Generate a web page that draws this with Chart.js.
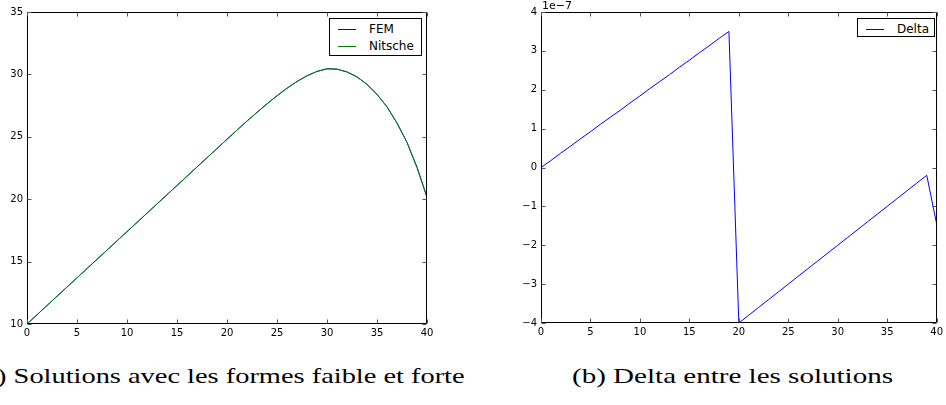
<!DOCTYPE html>
<html>
<head>
<meta charset="utf-8">
<script src="https://cdn.jsdelivr.net/npm/chart.js@4.4.1/dist/chart.umd.min.js"></script>
<style>
  html, body { margin: 0; padding: 0; background: #fff; }
  body { width: 946px; height: 405px; position: relative; overflow: hidden; }
  .wrap { position: absolute; }
  .legend { position: absolute; background: #fff; border: 1px solid #000; box-sizing: border-box;
            font-family: "DejaVu Sans", sans-serif; font-size: 12px; color: #000; }
  .legend .row { position: absolute; left: 0; height: 14px; width: 100%; }
  .legend .sample { position: absolute; left: 8px; width: 18px; height: 1px; top: 7px; }
  .legend .txt { position: absolute; left: 39px; top: 0px; line-height: 14px; white-space: nowrap; }
  .caption { position: absolute; font-family: "Liberation Serif", serif; font-size: 21px; color: #000; white-space: nowrap; line-height: 24px; transform-origin: 0 0; }
</style>
</head>
<body>
<div class="wrap" style="left:0;top:0;width:440px;height:345px;"><canvas id="c1" width="440" height="345"></canvas></div>
<div class="wrap" style="left:500px;top:0;width:446px;height:345px;"><canvas id="c2" width="446" height="345"></canvas></div>
<div id="leg1" class="legend" style="left:329px;top:18px;width:93px;height:38px;"></div>
<div id="leg2" class="legend" style="left:857px;top:18px;width:78px;height:19px;"></div>
<div id="cap1" class="caption"></div>
<div id="cap2" class="caption"></div>
<script>
// ---- Data ----
const xValues = [0,1,2,3,4,5,6,7,8,9,10,11,12,13,14,15,16,17,18,19,20,21,22,23,24,25,26,27,28,29,30,31,32,33,34,35,36,37,38,39,40];
const femValues = [10.00,10.74,11.48,12.22,12.96,13.70,14.44,15.18,15.92,16.66,17.40,18.14,18.88,19.62,20.36,21.10,21.84,22.58,23.32,24.06,24.80,25.54,26.26,26.96,27.64,28.29,28.89,29.43,29.89,30.24,30.45,30.42,30.20,29.80,29.20,28.40,27.40,26.10,24.55,22.55,20.15];
const nitscheValues = [10.00,10.74,11.48,12.22,12.96,13.70,14.44,15.18,15.92,16.66,17.40,18.14,18.88,19.62,20.36,21.10,21.84,22.58,23.32,24.06,24.80,25.54,26.26,26.96,27.64,28.29,28.89,29.43,29.89,30.24,30.45,30.42,30.20,29.80,29.20,28.40,27.40,26.10,24.55,22.55,20.15];
// Delta values in units of 1e-7
const deltaValues = [0.00,0.18,0.37,0.55,0.74,0.92,1.11,1.29,1.47,1.66,1.84,2.03,2.21,2.39,2.58,2.76,2.95,3.13,3.32,3.50,-4.00,-3.80,-3.60,-3.40,-3.20,-3.00,-2.80,-2.60,-2.40,-2.20,-2.00,-1.80,-1.60,-1.40,-1.20,-1.00,-0.80,-0.60,-0.40,-0.20,-1.45];
const xTicks = [0,5,10,15,20,25,30,35,40];
const leftYTicks = [10,15,20,25,30,35];
const rightYTicks = [-4,-3,-2,-1,0,1,2,3,4];
const seriesNamesLeft = ["FEM", "Nitsche"];
const seriesNamesRight = ["Delta"];
const offsetLabel = "1e\u22127";
const captionA = ["(a) ", "Solutions avec les formes faible et forte"];
const captionB = "(b) Delta entre les solutions";

const toPts = (ys) => xValues.map((x, i) => ({x: x, y: ys[i]}));
const fmt = (v) => String(v).replace('-', '\u2212');

const frame = {
  id: 'frame',
  afterDraw(chart, args, opts) {
    const ctx = chart.ctx, a = chart.chartArea;
    const xs = chart.scales.x, ys = chart.scales.y;
    const L = Math.round(a.left) + 0.5, R = Math.round(a.right) - 0.5;
    const T = Math.round(a.top) + 0.5, B = Math.round(a.bottom) - 0.5;
    ctx.save();
    ctx.strokeStyle = '#000';
    ctx.lineWidth = 1;
    ctx.beginPath();
    ctx.rect(L, T, R - L, B - T);
    ctx.stroke();
    ctx.strokeStyle = '#555';
    ctx.beginPath();
    const tl = 4;
    xs.ticks.forEach(t => {
      const p = Math.round(xs.getPixelForValue(t.value)) + 0.5;
      ctx.moveTo(p, B); ctx.lineTo(p, B - tl);
      ctx.moveTo(p, T); ctx.lineTo(p, T + tl);
    });
    ys.ticks.forEach(t => {
      const p = Math.round(ys.getPixelForValue(t.value)) + 0.5;
      ctx.moveTo(L, p); ctx.lineTo(L + tl, p);
      ctx.moveTo(R, p); ctx.lineTo(R - tl, p);
    });
    ctx.stroke();
    if (opts && opts.offsetText) {
      ctx.fillStyle = '#000';
      ctx.font = '11px "DejaVu Sans"';
      ctx.textBaseline = 'alphabetic';
      ctx.textAlign = 'left';
      ctx.fillText(opts.offsetText, a.left + 1, a.top - 3);
    }
    ctx.restore();
  }
};

function makeScales(yMin, yMax, yTickVals, yWidth, xHeight) {
  const tickFont = { family: 'DejaVu Sans', size: 10 };
  return {
    x: {
      type: 'linear', min: 0, max: 40,
      grid: { display: false, drawTicks: false }, border: { display: false },
      afterBuildTicks: (s) => { s.ticks = xTicks.map(v => ({value: v})); },
      ticks: { color: '#000', font: tickFont, padding: 3, maxRotation: 0, autoSkip: false, callback: (v) => fmt(v) },
      afterFit: (s) => { s.height = xHeight; }
    },
    y: {
      type: 'linear', min: yMin, max: yMax,
      grid: { display: false, drawTicks: false }, border: { display: false },
      afterBuildTicks: (s) => { s.ticks = yTickVals.map(v => ({value: v})); },
      ticks: { color: '#000', font: tickFont, padding: 4, autoSkip: false, callback: (v) => fmt(v) },
      afterFit: (s) => { s.width = yWidth; }
    }
  };
}

const common = {
  responsive: false, animation: false, devicePixelRatio: 1,
  plugins: { legend: { display: false }, tooltip: { enabled: false } },
  elements: { point: { radius: 0 }, line: { borderWidth: 1, tension: 0 } }
};

const chart1 = new Chart(document.getElementById('c1'), {
  type: 'line',
  data: { datasets: [
    { label: seriesNamesLeft[0], data: toPts(femValues), borderColor: '#0000ff', fill: false, order: 1 },
    { label: seriesNamesLeft[1], data: toPts(nitscheValues), borderColor: '#008000', fill: false, order: 0 }
  ]},
  options: Object.assign({}, common, {
    layout: { padding: { left: 0, top: 12, right: 13, bottom: 0 } },
    scales: makeScales(10, 35, leftYTicks, 27, 21),
    plugins: Object.assign({}, common.plugins, { frame: {} })
  }),
  plugins: [frame]
});

const chart2 = new Chart(document.getElementById('c2'), {
  type: 'line',
  data: { datasets: [
    { label: seriesNamesRight[0], data: toPts(deltaValues), borderColor: '#0000ff', fill: false }
  ]},
  options: Object.assign({}, common, {
    layout: { padding: { left: 0, top: 12, right: 6, bottom: 0 } },
    scales: makeScales(-4, 4, rightYTicks, 41, 22),
    plugins: Object.assign({}, common.plugins, { frame: { offsetText: offsetLabel } })
  }),
  plugins: [frame]
});

function buildLegend(el, chart) {
  chart.data.datasets.forEach((ds, i) => {
    const row = document.createElement('div');
    row.className = 'row';
    row.style.top = (3 + i * 17) + 'px';
    const s = document.createElement('div');
    s.className = 'sample';
    s.style.background = ds.borderColor;
    const t = document.createElement('div');
    t.className = 'txt';
    t.textContent = ds.label;
    row.appendChild(s); row.appendChild(t);
    el.appendChild(row);
  });
}
buildLegend(document.getElementById('leg1'), chart1);
buildLegend(document.getElementById('leg2'), chart2);

// Captions (serif), fitted to the reference text extents
const mctx = document.createElement('canvas').getContext('2d');
mctx.font = '21px "Liberation Serif"';
function placeCaption(id, text, startX, fitFrom, fitTo, baseline) {
  const el = document.getElementById(id);
  el.textContent = text;
  const pre = fitFrom ? mctx.measureText(fitFrom).width : 0;
  const main = mctx.measureText(text.slice(fitFrom ? fitFrom.length : 0)).width;
  const sx = (fitTo - startX) / main;
  el.style.transform = 'scaleX(' + sx + ')';
  el.style.left = (startX - pre * sx) + 'px';
  el.style.top = (baseline - 18) + 'px';
}
placeCaption('cap1', captionA.join(''), 14, captionA[0], 465, 382);
placeCaption('cap2', captionB, 572, '', 893, 382);
</script>
</body>
</html>
